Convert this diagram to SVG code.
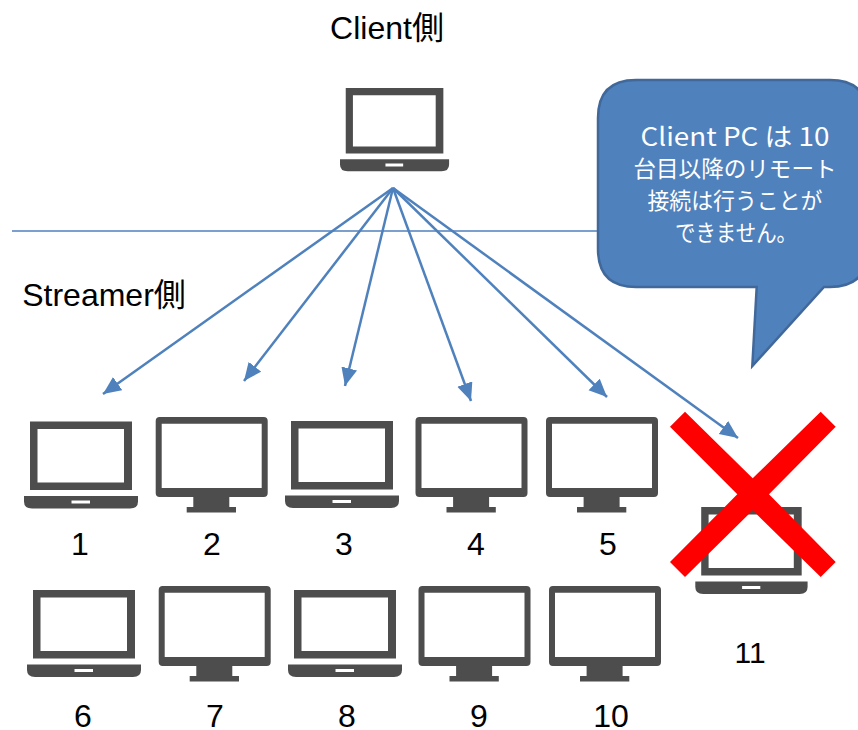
<svg xmlns="http://www.w3.org/2000/svg" width="858" height="730" viewBox="0 0 858 730">
<style>
.t{font-family:"Liberation Sans","Noto Sans CJK JP",sans-serif;font-size:32px;fill:#000;text-anchor:middle}
.c{font-family:"Noto Sans CJK JP","Noto Sans",sans-serif;font-size:22.5px;fill:#fff;text-anchor:middle}
.i{fill:#4d4d4d;fill-rule:evenodd}
.l{stroke:#4f81bd;stroke-width:2.5;fill:none;marker-end:url(#a)}
</style>
<defs>
<marker id="a" markerUnits="userSpaceOnUse" markerWidth="20" markerHeight="18" refX="18" refY="8" orient="auto"><path d="M0 0L18 8L0 16Z" fill="#4f81bd"/></marker>
<path id="lap" class="i" d="M6 0H108V68.500H6ZM13.500 7.500V61H100 V7.500ZM0 74.500H114V80Q114 87 106 87H8Q0 87 0 80ZM47.500 79V82H66V79Z"/>
<path id="mon" class="i" d="M4 0H108Q112 0 112 4V76Q112 80 108 80H73.600V90H80.300V95.400H31V90H37.600V80H4Q0 80 0 76V4Q0 0 4 0ZM6 6.700V71H106V6.700Z"/>
</defs>
<path d="M12 231H600" stroke="#4f81bd" stroke-width="1.300" fill="none"/>
<g id="connectors">
<path class="l" d="M393 188L103 394"/>
<path class="l" d="M393 188L244 381"/>
<path class="l" d="M393 188L345 386"/>
<path class="l" d="M393 188L471 401"/>
<path class="l" d="M393 188L607 397"/>
<path class="l" d="M393 188L738 438"/>
</g>
<g id="client"><use href="#lap" transform="translate(340 88) scale(.957)"/><text class="t" x="387" y="39">Client側</text></g>
<text class="t" x="104" y="306">Streamer側</text>
<g id="callout">
<path d="M636 80H830Q868 80 868 118V249Q868 287 830 287H824L752.300 366L756.700 287H636Q598 287 598 249V118Q598 80 636 80Z" fill="#4f81bd" stroke="#41689a" stroke-width="2.500"/>
<text class="c" style="font-size:25px" x="735" y="146" textLength="189" lengthAdjust="spacingAndGlyphs">Client PC は 10</text>
<text class="c" x="735" y="177" textLength="203" lengthAdjust="spacingAndGlyphs">台目以降のリモート</text>
<text class="c" x="735" y="209" textLength="175" lengthAdjust="spacingAndGlyphs">接続は行うことが</text>
<text class="c" x="736" y="241" textLength="122" lengthAdjust="spacingAndGlyphs">できません。</text>
</g>
<g id="n1"><use href="#lap" x="24" y="421.5"/><text class="t" x="80" y="555">1</text></g>
<g id="n2"><use href="#mon" x="155.700" y="417"/><text class="t" x="212" y="555">2</text></g>
<g id="n3"><use href="#lap" x="285" y="421"/><text class="t" x="344" y="555">3</text></g>
<g id="n4"><use href="#mon" x="415.500" y="417"/><text class="t" x="476" y="555">4</text></g>
<g id="n5"><use href="#mon" x="546" y="417"/><text class="t" x="608" y="555">5</text></g>
<g id="n6"><use href="#lap" x="27" y="590"/><text class="t" x="83" y="727">6</text></g>
<g id="n7"><use href="#mon" x="158.700" y="586"/><text class="t" x="215" y="727">7</text></g>
<g id="n8"><use href="#lap" x="288" y="590"/><text class="t" x="347" y="727">8</text></g>
<g id="n9"><use href="#mon" x="418.500" y="586"/><text class="t" x="479" y="727">9</text></g>
<g id="n10"><use href="#mon" x="549" y="586"/><text class="t" x="611" y="727">10</text></g>
<g id="n11"><use href="#lap" transform="translate(695.300 507) scale(.985 1)"/><text class="t" style="font-size:30px" x="750" y="663">11</text></g>
<path id="cross" d="M670 426.700L685 411.700L752.700 478.300L820.700 411.700L835.700 426.700L769 494.300L835.700 562L820.700 577L752.700 510.300L685 577L670 562L737.300 494.300Z" fill="#f00"/>
</svg>
